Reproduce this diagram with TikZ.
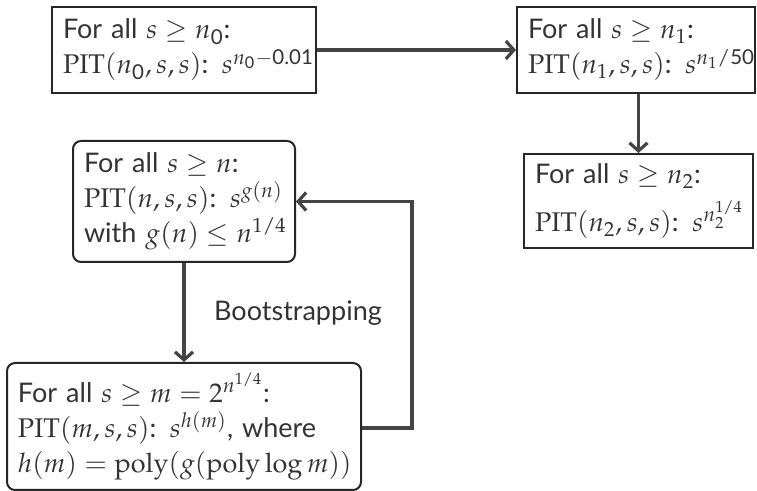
\documentclass[tikz,border=0pt]{standalone}
\usepackage{amsmath}
\usepackage{mathpazo}
\usepackage[no-math]{fontspec}
\setmainfont{Lato}
\usetikzlibrary{arrows.meta}
\definecolor{txt}{HTML}{333333}
\definecolor{ln}{HTML}{444444}
\begin{document}
\begin{tikzpicture}[x=0.5pt,y=-0.5pt,
  box/.style={draw=black!85, line width=1pt, inner xsep=5pt, inner ysep=2pt, align=left, text=txt, font=\fontsize{13.5}{17.5}\selectfont, anchor=center},
  rbox/.style={box, rounded corners=4pt},
  arr/.style={draw=ln, line width=1.6pt, -{Straight Barb[length=4pt,width=9pt,line width=1.6pt]}},
  lbl/.style={text=txt, font=\fontsize{13.5}{17.5}\selectfont}]
\useasboundingbox (0,0) rectangle (757,491);
\node[box, minimum width=132pt, minimum height=43pt, text width=121pt] (A) at (184,50)
  {\mbox{For all $s \ge n_{\text{0}}$:}\\ \mbox{$\mathrm{PIT}(n_{\text{0}},s,s)$: $s^{n_{\text{0}}-\text{0.01}}$}};
\node[box, minimum width=119pt, minimum height=43pt, text width=108pt] (B) at (636,50)
  {\mbox{For all $s \ge n_1$:}\\ \mbox{$\mathrm{PIT}(n_1,s,s)$: $s^{n_1/\text{50}}$}};
\node[box, minimum width=114.5pt, minimum height=47pt, text width=103.5pt] (C) at (638.5,201)
  {\mbox{For all $s \ge n_2$:}\\[5pt] \mbox{$\mathrm{PIT}(n_2,s,s)$: $s^{n_2^{1/4}}$}};
\node[rbox, minimum width=111pt, minimum height=60.5pt, text width=100pt] (D) at (184,201.5)
  {\mbox{For all $s \ge n$:}\\ \mbox{$\mathrm{PIT}(n,s,s)$: $s^{g(n)}$}\\ \mbox{with $g(n) \le n^{1/4}$}};
\node[rbox, minimum width=177pt, minimum height=63.5pt, text width=166pt] (E) at (184,426.5)
  {\mbox{For all $s \ge m = 2^{n^{1/4}}$:}\\ \mbox{$\mathrm{PIT}(m,s,s)$: $s^{h(m)}$, where}\\ \mbox{$h(m) = \mathrm{poly}(g(\mathrm{poly}\log m))$}};
\node[lbl] (L) at (298,313) {Bootstrapping};
\draw[arr] (A.east) -- (B.west);
\draw[arr] (C.north |- B.south) -- (C.north);
\draw[arr] (D.south) -- (E.north);
\coordinate (R) at (412,428);
\draw[arr] (E.east |- R) -- (R) |- (D.east);
\end{tikzpicture}
\end{document}
